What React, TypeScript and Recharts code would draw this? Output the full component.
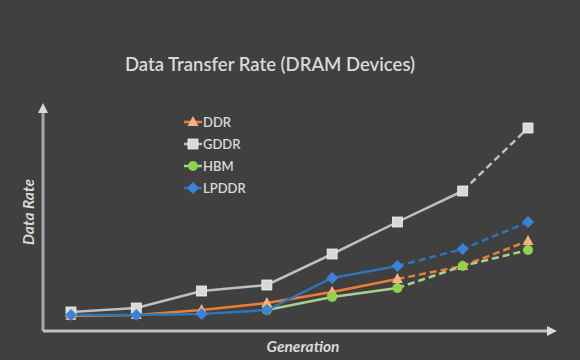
import { LineChart, Line, XAxis, YAxis } from 'recharts';

const generations = ['G1', 'G2', 'G3', 'G4', 'G5', 'G6', 'G7', 'G8'];
const ddr = [15, 16, 21, 28, 39, 52, 65, 90];
const gddr = [19, 23, 40, 46, 77, 109, 140, 203];
const hbm = [null, null, null, 21, 34, 43, 65, 81];
const lpddr = [16, 16, 17, 21, 53, 65, 82, 109];

// index where the projected (dashed) part begins
const gddrSplit = 6;
const otherSplit = 5;

const split = (vals: (number | null)[], at: number) => ({
  solid: vals.map((v, i) => (i <= at ? v : null)),
  dash: vals.map((v, i) => (i >= at ? v : null)),
});

const s = {
  ddr: split(ddr, otherSplit),
  gddr: split(gddr, gddrSplit),
  hbm: split(hbm, otherSplit),
  lpddr: split(lpddr, otherSplit),
};

const data = generations.map((g, i) => ({
  gen: g,
  ddrSolid: s.ddr.solid[i],
  ddrDash: s.ddr.dash[i],
  gddrSolid: s.gddr.solid[i],
  gddrDash: s.gddr.dash[i],
  hbmSolid: s.hbm.solid[i],
  hbmDash: s.hbm.dash[i],
  lpddrSolid: s.lpddr.solid[i],
  lpddrDash: s.lpddr.dash[i],
}));

const BG = '#404040';
const TEXT = '#d9d9d9';
const FONT = 'Lato, "Open Sans", sans-serif';

const series = [
  { key: 'ddr', name: 'DDR', line: '#ed7d31', mark: '#f4b183', shape: 'triangle' },
  { key: 'gddr', name: 'GDDR', line: '#bfbfbf', mark: '#d9d9d9', shape: 'square' },
  { key: 'hbm', name: 'HBM', line: '#a9d18e', mark: '#92d050', shape: 'circle' },
  { key: 'lpddr', name: 'LPDDR', line: '#2e75b6', mark: '#3b82d6', shape: 'diamond' },
];

const Marker = ({ shape, x, y, fill }: { shape: string; x: number; y: number; fill: string }) => {
  if (shape === 'triangle') {
    return <path d={`M${x},${y - 6} L${x + 5.5},${y + 4} L${x - 5.5},${y + 4} Z`} fill={fill} />;
  }
  if (shape === 'square') {
    return <rect x={x - 5} y={y - 5} width={10} height={10} fill={fill} stroke="#f2f2f2" strokeWidth={0.8} />;
  }
  if (shape === 'circle') {
    return <circle cx={x} cy={y} r={5} fill={fill} />;
  }
  return <path d={`M${x},${y - 6} L${x + 6},${y} L${x},${y + 6} L${x - 6},${y} Z`} fill={fill} />;
};

const makeDot = (shape: string, fill: string, skipIndex: number) => (props: any) => {
  const { cx, cy, index, value } = props;
  if (cx == null || cy == null || value == null || index === skipIndex) return <g key={`d-${index}`} />;
  return (
    <g key={`d-${index}`}>
      <Marker shape={shape} x={cx} y={cy} fill={fill} />
    </g>
  );
};

const LegendBox = () => (
  <div style={{ fontFamily: FONT, fontSize: 13, fontWeight: 600, color: TEXT }}>
    {series.map((sr) => (
      <div key={sr.key} style={{ display: 'flex', alignItems: 'center', height: 22 }}>
        <svg width={18} height={14}>
          <line x1={0} y1={7} x2={18} y2={7} stroke={sr.line} strokeWidth={2.5} />
          <Marker shape={sr.shape} x={9} y={7} fill={sr.mark} />
        </svg>
        <span style={{ marginLeft: 1 }}>{sr.name}</span>
      </div>
    ))}
  </div>
);

export default function App() {
  return (
    <div style={{ position: 'absolute', left: 0, top: 0, width: 580, height: 360, background: BG }}>
      <svg width={580} height={360} style={{ position: 'absolute', left: 0, top: 0 }}>
        <text x={270} y={71} textAnchor="middle" fill={TEXT} fontFamily={FONT} fontSize={18.5} fontWeight={600}>
          Data Transfer Rate (DRAM Devices)
        </text>
        <line x1={43} y1={331} x2={43} y2={112} stroke="#a6a6a6" strokeWidth={3} />
        <path d="M43,103 L48,113 L38,113 Z" fill="#d9d9d9" />
        <line x1={43} y1={331} x2={548} y2={331} stroke="#bfbfbf" strokeWidth={3} />
        <path d="M557,331 L547,326 L547,336 Z" fill="#d9d9d9" />
        <text
          transform="translate(34,212) rotate(-90)"
          textAnchor="middle"
          fill={TEXT}
          fontFamily={FONT}
          fontSize={15.5}
          fontWeight={700}
          fontStyle="italic"
        >
          Data Rate
        </text>
        <text x={303} y={352} textAnchor="middle" fill={TEXT} fontFamily={FONT} fontSize={15.5} fontWeight={700} fontStyle="italic">
          Generation
        </text>
      </svg>
      <div style={{ position: 'absolute', left: 184, top: 111, width: 80 }}>
        <LegendBox />
      </div>
      <div style={{ position: 'absolute', left: 0, top: 0 }}>
        <LineChart width={580} height={360} data={data} margin={{ top: 103, right: 25, bottom: 29, left: 43 }}>
          <XAxis dataKey="gen" hide padding={{ left: 28, right: 27 }} />
          <YAxis hide domain={[0, 228]} />
          {series.map((sr) => {
            const skip = sr.key === 'gddr' ? gddrSplit : otherSplit;
            return [
              <Line
                key={`${sr.key}-solid`}
                dataKey={`${sr.key}Solid`}
                stroke={sr.line}
                strokeWidth={2.5}
                dot={makeDot(sr.shape, sr.mark, -1)}
                activeDot={false}
                legendType="none"
                isAnimationActive={false}
              />,
              <Line
                key={`${sr.key}-dash`}
                dataKey={`${sr.key}Dash`}
                stroke={sr.line}
                strokeWidth={2.5}
                strokeDasharray="7 4"
                dot={makeDot(sr.shape, sr.mark, skip)}
                activeDot={false}
                legendType="none"
                isAnimationActive={false}
              />,
            ];
          })}
        </LineChart>
      </div>
    </div>
  );
}
